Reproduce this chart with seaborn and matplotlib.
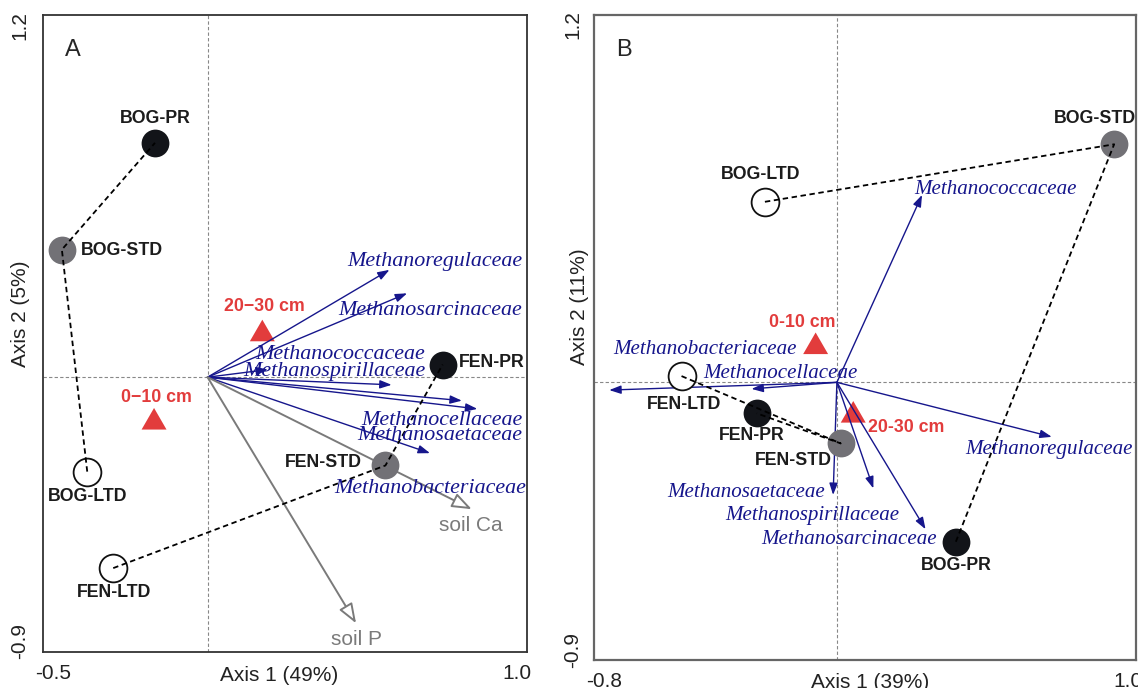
import numpy as np
import pandas as pd
import seaborn as sns
import matplotlib.pyplot as plt

sns.set_style('white')
plt.rcParams['font.family'] = ['Liberation Sans', 'DejaVu Sans']

# ---- Panel A (axis 1 = 49 %, axis 2 = 5 %)
sites_a = ['BOG-PR', 'BOG-STD', 'BOG-LTD', 'FEN-LTD', 'FEN-STD', 'FEN-PR']
site_x_a = [-0.170, -0.471, -0.389, -0.305, 0.575, 0.760]
site_y_a = [0.799, 0.435, -0.322, -0.651, -0.301, 0.043]

depth_a = ['0\u221210 cm', '20\u221230 cm']
depth_x_a = [-0.173, 0.177]
depth_y_a = [-0.154, 0.147]

taxa_a = ['Methanoregulaceae', 'Methanosarcinaceae', 'Methanococcaceae', 'Methanospirillaceae',
          'Methanocellaceae', 'Methanosaetaceae', 'Methanobacteriaceae']
taxa_x_a = [0.588, 0.645, 0.195, 0.595, 0.872, 0.822, 0.719]
taxa_y_a = [0.366, 0.286, 0.026, -0.026, -0.108, -0.080, -0.259]

soil_a = ['soil Ca', 'soil P']
soil_x_a = [0.854, 0.480]
soil_y_a = [-0.450, -0.839]

# ---- Panel B (axis 1 = 39 %, axis 2 = 11 %)
sites_b = ['BOG-PR', 'BOG-STD', 'BOG-LTD', 'FEN-LTD', 'FEN-STD', 'FEN-PR']
site_x_b = [0.408, 0.951, -0.247, -0.533, 0.013, -0.275]
site_y_b = [-0.535, 0.799, 0.606, 0.021, -0.205, -0.104]

depth_b = ['0-10 cm', '20-30 cm']
depth_x_b = [-0.073, 0.056]
depth_y_b = [0.119, -0.111]

taxa_b = ['Methanococcaceae', 'Methanobacteriaceae', 'Methanocellaceae', 'Methanoregulaceae',
          'Methanosaetaceae', 'Methanospirillaceae', 'Methanosarcinaceae']
taxa_x_b = [0.292, -0.781, -0.293, 0.737, -0.013, 0.125, 0.304]
taxa_y_b = [0.629, -0.026, -0.022, -0.183, -0.378, -0.356, -0.493]

# label placement (data units) and alignment
site_lab_a = {'BOG-PR': (-0.168, 0.881, 'center'), 'BOG-STD': (-0.408, 0.432, 'left'),
              'BOG-LTD': (-0.388, -0.406, 'center'), 'FEN-LTD': (-0.301, -0.733, 'center'),
              'FEN-STD': (0.499, -0.292, 'right'), 'FEN-PR': (0.811, 0.049, 'left')}
site_lab_b = {'BOG-PR': (0.408, -0.615, 'center'), 'BOG-STD': (0.886, 0.884, 'center'),
              'BOG-LTD': (-0.260, 0.696, 'center'), 'FEN-LTD': (-0.526, -0.074, 'center'),
              'FEN-PR': (-0.293, -0.180, 'center'), 'FEN-STD': (-0.150, -0.261, 'center')}
depth_lab_a = [(-0.165, -0.068, 'center'), (0.184, 0.241, 'center')]
depth_lab_b = [(-0.119, 0.200, 'center'), (0.107, -0.152, 'left')]
taxa_lab_a = [(1.017, 0.394, 'right'), (1.017, 0.229, 'right'), (0.703, 0.076, 'right'),
              (0.703, 0.019, 'right'), (1.017, -0.146, 'right'), (1.017, -0.200, 'right'),
              (1.030, -0.381, 'right')]
taxa_lab_b = [(0.267, 0.648, 'left'), (-0.452, 0.111, 'center'), (-0.459, 0.030, 'left'),
              (0.439, -0.226, 'left'), (-0.040, -0.369, 'right'), (-0.086, -0.448, 'center'),
              (0.040, -0.526, 'center')]
soil_lab_a = [(0.851, -0.507), (0.480, -0.893)]

NAVY = '#16168c'
RED = '#e23c3c'
GREY = '#7a7a7a'
stage_style = {'PR': ('#121419', '#121419', 0.0),
               'STD': ('#727176', '#727176', 0.0),
               'LTD': ('white', '#111111', 1.3)}


def panel(ax, sites, sx, sy, site_lab, depth, dx, dy, depth_lab, taxa, tx, ty, taxa_lab, taxa_fs):
    df = pd.DataFrame({'site': sites, 'x': sx, 'y': sy})
    df['hab'] = df['site'].str.split('-').str[0]
    df['stage'] = df['site'].str.split('-').str[1]

    ax.axhline(0, color='#888888', lw=0.8, ls=(0, (3, 2)), zorder=1)
    ax.axvline(0, color='#888888', lw=0.8, ls=(0, (3, 2)), zorder=1)

    # depth centroids
    sns.scatterplot(x=dx, y=dy, ax=ax, marker=(3, 0, 0), s=430, color=RED,
                    edgecolor='none', zorder=2, legend=False)
    for (lx, ly, ha), lab in zip(depth_lab, depth):
        ax.text(lx, ly, lab, color=RED, fontsize=12.8, fontweight='bold',
                ha=ha, va='center', zorder=6)

    # taxa vectors
    for x, y in zip(tx, ty):
        ax.annotate('', xy=(x, y), xytext=(0, 0), zorder=3,
                    arrowprops=dict(arrowstyle='-|>,head_length=0.7,head_width=0.25',
                                    color=NAVY, lw=1.0, shrinkA=0, shrinkB=0))
    for (lx, ly, ha), lab in zip(taxa_lab, taxa):
        ax.text(lx, ly, lab, color=NAVY, fontsize=taxa_fs, style='italic',
                family='Liberation Serif', ha=ha, va='center', zorder=6)

    # site scores
    for st, (fc, ec, lw) in stage_style.items():
        sub = df[df['stage'] == st]
        sns.scatterplot(data=sub, x='x', y='y', ax=ax, s=400, facecolor=fc,
                        edgecolor=ec, linewidth=lw, zorder=4, legend=False)

    # trajectories LTD -> STD -> PR
    for hab in ['BOG', 'FEN']:
        sub = df[df['hab'] == hab].set_index('stage').loc[['LTD', 'STD', 'PR']]
        sns.lineplot(x=sub['x'].values, y=sub['y'].values, ax=ax, sort=False,
                     estimator=None, color='black', lw=1.3, ls=(0, (3, 2)), zorder=5)

    for name, (lx, ly, ha) in site_lab.items():
        ax.text(lx, ly, name, fontsize=12.8, fontweight='bold', color='#1c1c1c',
                ha=ha, va='center', zorder=6)

    ax.set_xlabel('')
    ax.set_ylabel('')


fig = plt.figure(figsize=(11.38, 6.88), dpi=100)
axA = fig.add_axes([43 / 1138, 36.3 / 688, 483.8 / 1138, 636.7 / 688])
axB = fig.add_axes([593.5 / 1138, 28 / 688, 542.5 / 1138, 645 / 688])

panel(axA, sites_a, site_x_a, site_y_a, site_lab_a, depth_a, depth_x_a, depth_y_a, depth_lab_a,
      taxa_a, taxa_x_a, taxa_y_a, taxa_lab_a, 15.8)
panel(axB, sites_b, site_x_b, site_y_b, site_lab_b, depth_b, depth_x_b, depth_y_b, depth_lab_b,
      taxa_b, taxa_x_b, taxa_y_b, taxa_lab_b, 15.1)

# environmental vectors (panel A only)
for x, y in zip(soil_x_a, soil_y_a):
    axA.annotate('', xy=(x, y), xytext=(0, 0), zorder=3,
                 arrowprops=dict(arrowstyle='-|>,head_length=1.2,head_width=0.45',
                                 fc='white', ec=GREY, lw=1.4, shrinkA=0, shrinkB=0))
for (lx, ly), lab in zip(soil_lab_a, soil_a):
    axA.text(lx, ly, lab, color=GREY, fontsize=15, ha='center', va='center', zorder=6)

axA.set_xlim(-0.532, 1.032)
axA.set_ylim(-0.936, 1.235)
axB.set_xlim(-0.835, 1.026)
axB.set_ylim(-0.932, 1.233)

axA.set_xticks([-0.5, -0.4, -0.2, 0, 0.2, 0.4, 0.6, 0.8, 1.0])
axA.set_xticklabels(['-0.5', '', '', '', '', '', '', '', '1.0'])
axB.set_xticks([-0.8, -0.5, 0, 0.5, 1.0])
axB.set_xticklabels(['-0.8', '', '', '', '1.0'])
for ax, ypad in ((axA, 6), (axB, 4)):
    ax.set_yticks([-0.9, -0.5, 0, 0.5, 1.0, 1.2])
    ax.set_yticklabels(['-0.9', '', '', '', '', '1.2'], rotation=90, va='center')
    ax.tick_params(axis='x', direction='inout', length=5, width=1, pad=6,
                   labelsize=15, colors='#222222')
    ax.tick_params(axis='y', direction='out', length=4, width=1, pad=ypad,
                   labelsize=15, colors='#222222')

for sp in axA.spines.values():
    sp.set_color('#333333')
    sp.set_linewidth(1.3)
for sp in axB.spines.values():
    sp.set_color('#666666')
    sp.set_linewidth(1.6)

axA.set_xlabel('Axis 1 (49%)', fontsize=15, color='#222222')
axA.xaxis.set_label_coords(0.489, -0.022)
axA.set_ylabel('Axis 2 (5%)', fontsize=15, color='#222222')
axA.yaxis.set_label_coords(-0.027, 0.53)
axB.set_xlabel('Axis 1 (39%)', fontsize=15, color='#222222')
axB.xaxis.set_label_coords(0.51, -0.02)
axB.set_ylabel('Axis 2 (11%)', fontsize=15, color='#222222')
axB.yaxis.set_label_coords(-0.009, 0.547)

axA.text(-0.434, 1.115, 'A', fontsize=17, ha='center', va='center')
axB.text(-0.732, 1.115, 'B', fontsize=17, ha='center', va='center')

fig.savefig('out.png', dpi=100)
